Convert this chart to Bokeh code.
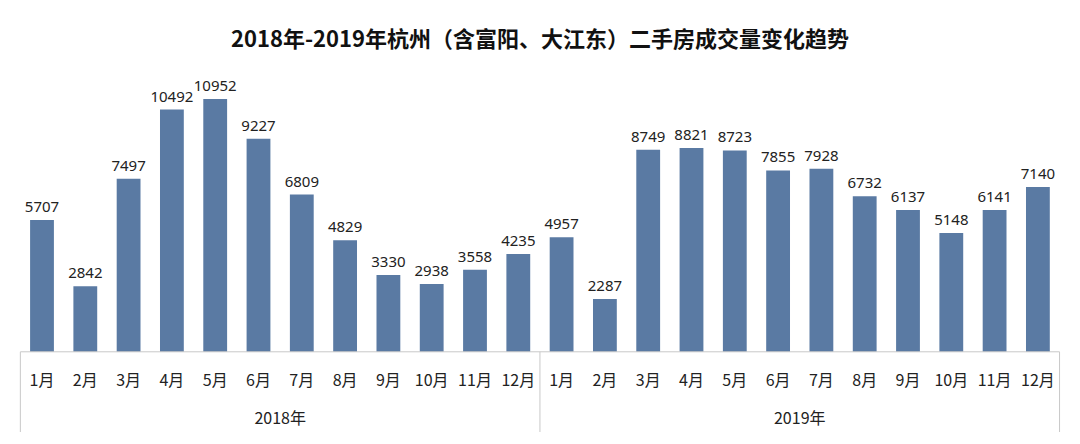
from bokeh.plotting import figure
from bokeh.models import ColumnDataSource, Range1d
from bokeh.core.properties import value
from bokeh.embed import file_html
from bokeh.resources import INLINE

# ---------------- data ----------------
title_text = "2018年-2019年杭州（含富阳、大江东）二手房成交量变化趋势"
years = ["2018年", "2019年"]
months = ["1月", "2月", "3月", "4月", "5月", "6月",
          "7月", "8月", "9月", "10月", "11月", "12月"]
sales_2018 = [5707, 2842, 7497, 10492, 10952, 9227, 6809, 4829, 3330, 2938, 3558, 4235]
sales_2019 = [4957, 2287, 8749, 8821, 8723, 7855, 7928, 6732, 6137, 5148, 6141, 7140]

# ---------------- geometry ----------------
W, H = 1064, 432
PX_PER_CAT = 43.3          # horizontal pixels per month slot
X0_PX = 19.85              # left edge of category area (px from left)
Y_PX = 0.02309             # pixels per unit of volume
BASE_PX = 351.3            # baseline (px from top)


def ypx(py):
    """vertical pixel (from top) -> data y"""
    return (BASE_PX - py) / Y_PX


all_vals = sales_2018 + sales_2019
all_months = months + months
n = len(all_vals)
xs = [i + 0.5 for i in range(n)]

p = figure(width=W, height=H, output_backend="svg", toolbar_location=None,
           x_range=Range1d(-X0_PX / PX_PER_CAT, (W - X0_PX) / PX_PER_CAT),
           y_range=Range1d(-(H - BASE_PX) / Y_PX, BASE_PX / Y_PX),
           x_axis_location=None, y_axis_location=None,
           min_border=0, min_border_left=0, min_border_right=0,
           min_border_top=0, min_border_bottom=0)
p.grid.visible = False
p.outline_line_color = None
p.background_fill_color = "white"
p.border_fill_color = "white"

src = ColumnDataSource(dict(x=xs, top=all_vals, lab=[str(v) for v in all_vals],
                            mon=all_months))

# bars
p.vbar(x="x", top="top", width=0.55, bottom=0, source=src,
       fill_color="#5A7AA3", line_color=None)

# value labels
p.text(x="x", y="top", text="lab", source=src, y_offset=-13,
       text_align="center", text_baseline="alphabetic",
       text_font=value("Noto Sans"),
       text_font_size="15px", text_color="#222222")

# axis lines
line_col = "#C8C8C8"
ngroups = len(years)
per = len(months)
p.segment(x0=[0], y0=[0], x1=[n], y1=[0], line_color=line_col, line_width=1)
bounds = [g * per for g in range(ngroups + 1)]
p.segment(x0=bounds, y0=[0] * len(bounds), x1=bounds,
          y1=[ypx(H)] * len(bounds), line_color=line_col, line_width=1)

# month labels
p.text(x="x", y=ypx(378), text="mon", source=src,
       text_align="center", text_baseline="middle",
       text_font=value("Noto Sans CJK SC"), text_font_size="16px",
       text_color="#222222")

# year group labels
p.text(x=[g * per + per / 2 for g in range(ngroups)], y=[ypx(416)] * ngroups,
       text=years, text_align="center", text_baseline="middle",
       text_font=value("Noto Sans CJK SC"), text_font_size="16px",
       text_color="#222222")

# title
p.text(x=[n / 2], y=[ypx(36)], text=[title_text],
       text_align="center", text_baseline="middle",
       text_font=value("Noto Sans CJK SC"), text_font_size="22px",
       text_font_style="bold", text_color="#111111")

open("out.html", "w").write(file_html(p, INLINE))
